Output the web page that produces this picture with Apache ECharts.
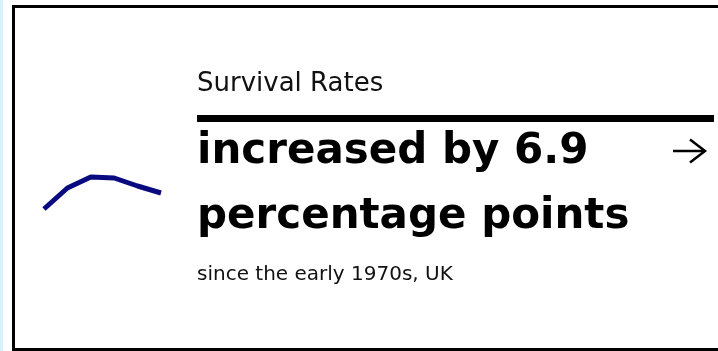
<!DOCTYPE html>
<html>
<head>
<meta charset="utf-8">
<script src="https://cdn.jsdelivr.net/npm/echarts@6/dist/echarts.min.js"></script>
<style>
  html, body { margin: 0; padding: 0; background: #fff; }
  #chart { width: 718px; height: 351px; }
</style>
</head>
<body>
<div id="chart"></div>
<script>
// sparkline values (relative survival)
const periods = ["1971", "1976", "1981", "1986", "1991", "1996"];
const survival = [11, 32, 43, 42, 34, 27];

const label = "Survival Rates";
const headline = ["increased by 6.9", "percentage points"];
const subline = "since the early 1970s, UK";

const font = "'DejaVu Sans'";

let myChart = echarts.init(document.getElementById("chart"));

myChart.setOption({
  animation: false,
  grid: { left: 44, top: 160, width: 117, height: 60 },
  xAxis: { type: "category", data: periods, boundaryGap: false, show: false },
  yAxis: { type: "value", min: 0, max: 60, show: false },
  graphic: [
    // left page strip
    { type: "rect", shape: { x: 0, y: 0, width: 3, height: 351 }, style: { fill: "#d5f3fb" } },
    // card border
    {
      type: "rect",
      shape: { x: 13.5, y: 6.5, width: 730, height: 343 },
      style: { fill: "none", stroke: "#000", lineWidth: 3 },
    },
    {
      type: "text", left: 197, top: 71,
      style: { text: label, font: "400 26px " + font, fill: "#111" },
    },
    { type: "rect", shape: { x: 197, y: 115, width: 517, height: 7 }, style: { fill: "#000" } },
    {
      type: "text", left: 197, top: 131,
      style: { text: headline[0], font: "700 42px " + font, fill: "#000" },
    },
    {
      type: "text", left: 197, top: 196,
      style: { text: headline[1], font: "700 42px " + font, fill: "#000" },
    },
    {
      type: "text", left: 197, top: 265,
      style: { text: subline, font: "400 20px " + font, fill: "#111" },
    },
    // arrow
    {
      type: "polyline",
      shape: { points: [[673, 151], [705, 151]] },
      style: { stroke: "#000", lineWidth: 2.5, fill: "none" },
    },
    {
      type: "polyline",
      shape: { points: [[690, 139.5], [705, 151], [690, 162.5]] },
      style: { stroke: "#000", lineWidth: 2.5, fill: "none" },
    },
  ],
  series: [
    {
      type: "line",
      data: survival,
      symbol: "none",
      lineStyle: { color: "#0a0a80", width: 5 },
    },
  ],
});
</script>
</body>
</html>
